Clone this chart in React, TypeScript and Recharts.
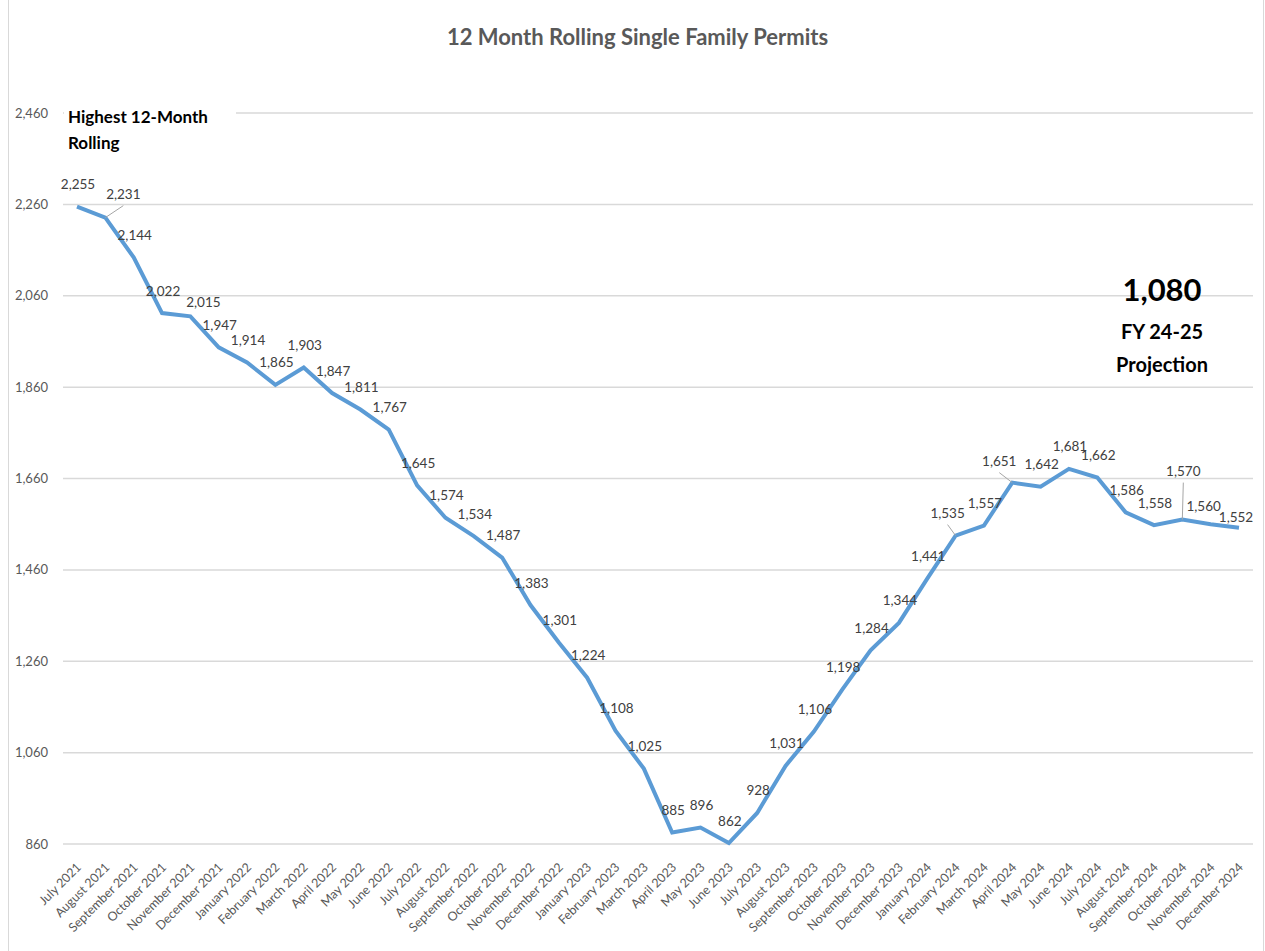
import React from 'react'
import { LineChart, Line, XAxis, YAxis, CartesianGrid } from 'recharts'

// 12 month rolling single family permits, July 2021 - December 2024
const months = [
  'July 2021', 'August 2021', 'September 2021', 'October 2021', 'November 2021', 'December 2021',
  'January 2022', 'February 2022', 'March 2022', 'April 2022', 'May 2022', 'June 2022',
  'July 2022', 'August 2022', 'September 2022', 'October 2022', 'November 2022', 'December 2022',
  'January 2023', 'February 2023', 'March 2023', 'April 2023', 'May 2023', 'June 2023',
  'July 2023', 'August 2023', 'September 2023', 'October 2023', 'November 2023', 'December 2023',
  'January 2024', 'February 2024', 'March 2024', 'April 2024', 'May 2024', 'June 2024',
  'July 2024', 'August 2024', 'September 2024', 'October 2024', 'November 2024', 'December 2024',
]

const permits = [
  2255, 2231, 2144, 2022, 2015, 1947,
  1914, 1865, 1903, 1847, 1811, 1767,
  1645, 1574, 1534, 1487, 1383, 1301,
  1224, 1108, 1025, 885, 896, 862,
  928, 1031, 1106, 1198, 1284, 1344,
  1441, 1535, 1557, 1651, 1642, 1681,
  1662, 1586, 1558, 1570, 1560, 1552,
]

const yTicks = [860, 1060, 1260, 1460, 1660, 1860, 2060, 2260, 2460]

const data = months.map((month, i) => ({ month, permits: permits[i] }))

const FONT = 'Lato, "Open Sans", sans-serif'
const fmt = (v: number) => v.toLocaleString('en-US')

// label nudges (dx, dy from the point); a few carry a leader line like Excel
const labelShift: Record<number, [number, number]> = {
  1: [18, -23],
  4: [13, -14],
  31: [-8, -22],
  33: [-13, -21],
  39: [1, -48],
  40: [-7, -18],
  41: [-3, -10],
}
const leaders = [1, 31, 33, 39]

function PointLabel(props: any) {
  const { x, y, value, index } = props
  if (x == null || y == null) return null
  const [dx, dy] = labelShift[index] ?? [1, -22]
  const cx = x + dx
  const cy = y + dy
  return (
    <g>
      {leaders.includes(index) && (
        <line x1={x} y1={y} x2={cx} y2={cy + 11} stroke="#a6a6a6" strokeWidth={1} />
      )}
      <text x={cx} y={cy + 4.5} textAnchor="middle" fontSize={13.5} fill="#404040" fontFamily={FONT}>
        {fmt(value)}
      </text>
    </g>
  )
}

function MonthTick(props: any) {
  const { x, y, payload } = props
  return (
    <text
      x={0}
      y={0}
      transform={`translate(${x + 5},${y + 16}) rotate(-45)`}
      textAnchor="end"
      fontSize={12.5}
      fill="#595959"
      fontFamily={FONT}
    >
      {payload.value}
    </text>
  )
}

export default function App() {
  return (
    <div style={{ position: 'absolute', left: 0, top: 0, width: 1265, height: 951, background: '#fff', fontFamily: FONT }}>
      {/* chart frame sides */}
      <div style={{ position: 'absolute', left: 8, top: 0, width: 1, height: 951, background: '#d9d9d9' }} />
      <div style={{ position: 'absolute', left: 1263, top: 0, width: 1, height: 951, background: '#d9d9d9' }} />

      <LineChart width={1265} height={951} data={data} margin={{ top: 113, right: 12, bottom: 7, left: 0 }}>
        <CartesianGrid vertical={false} stroke="#d9d9d9" strokeWidth={1.5} />
        <XAxis
          dataKey="month"
          interval={0}
          height={100}
          padding={{ left: 14, right: 14 }}
          axisLine={false}
          tickLine={false}
          tick={<MonthTick />}
        />
        <YAxis
          width={63}
          domain={[860, 2460]}
          ticks={yTicks}
          tickFormatter={fmt}
          axisLine={false}
          tickLine={false}
          tickSize={0}
          tickMargin={15}
          tick={{ fontSize: 13, fill: '#595959', fontFamily: FONT }}
        />
        <Line
          type="linear"
          dataKey="permits"
          stroke="#5b9bd5"
          strokeWidth={4}
          dot={false}
          isAnimationActive={false}
          label={<PointLabel />}
        />
      </LineChart>

      <div style={{ position: 'absolute', left: 0, top: 23, width: 1275, textAlign: 'center', fontSize: 22, fontWeight: 700, color: '#595959' }}>
        12 Month Rolling Single Family Permits
      </div>

      <div style={{ position: 'absolute', left: 64, top: 104, width: 168, height: 62, background: '#fff', paddingLeft: 4, fontSize: 17, fontWeight: 700, color: '#000', lineHeight: '26px' }}>
        Highest 12-Month
        <br />
        Rolling
      </div>

      <div style={{ position: 'absolute', left: 1062, top: 268, width: 200, textAlign: 'center', color: '#000', fontWeight: 700 }}>
        <div style={{ fontSize: 31, lineHeight: '42px' }}>1,080</div>
        <div style={{ fontSize: 20, lineHeight: '42px' }}>FY 24-25</div>
        <div style={{ fontSize: 20, lineHeight: '24px' }}>Projection</div>
      </div>
    </div>
  )
}
